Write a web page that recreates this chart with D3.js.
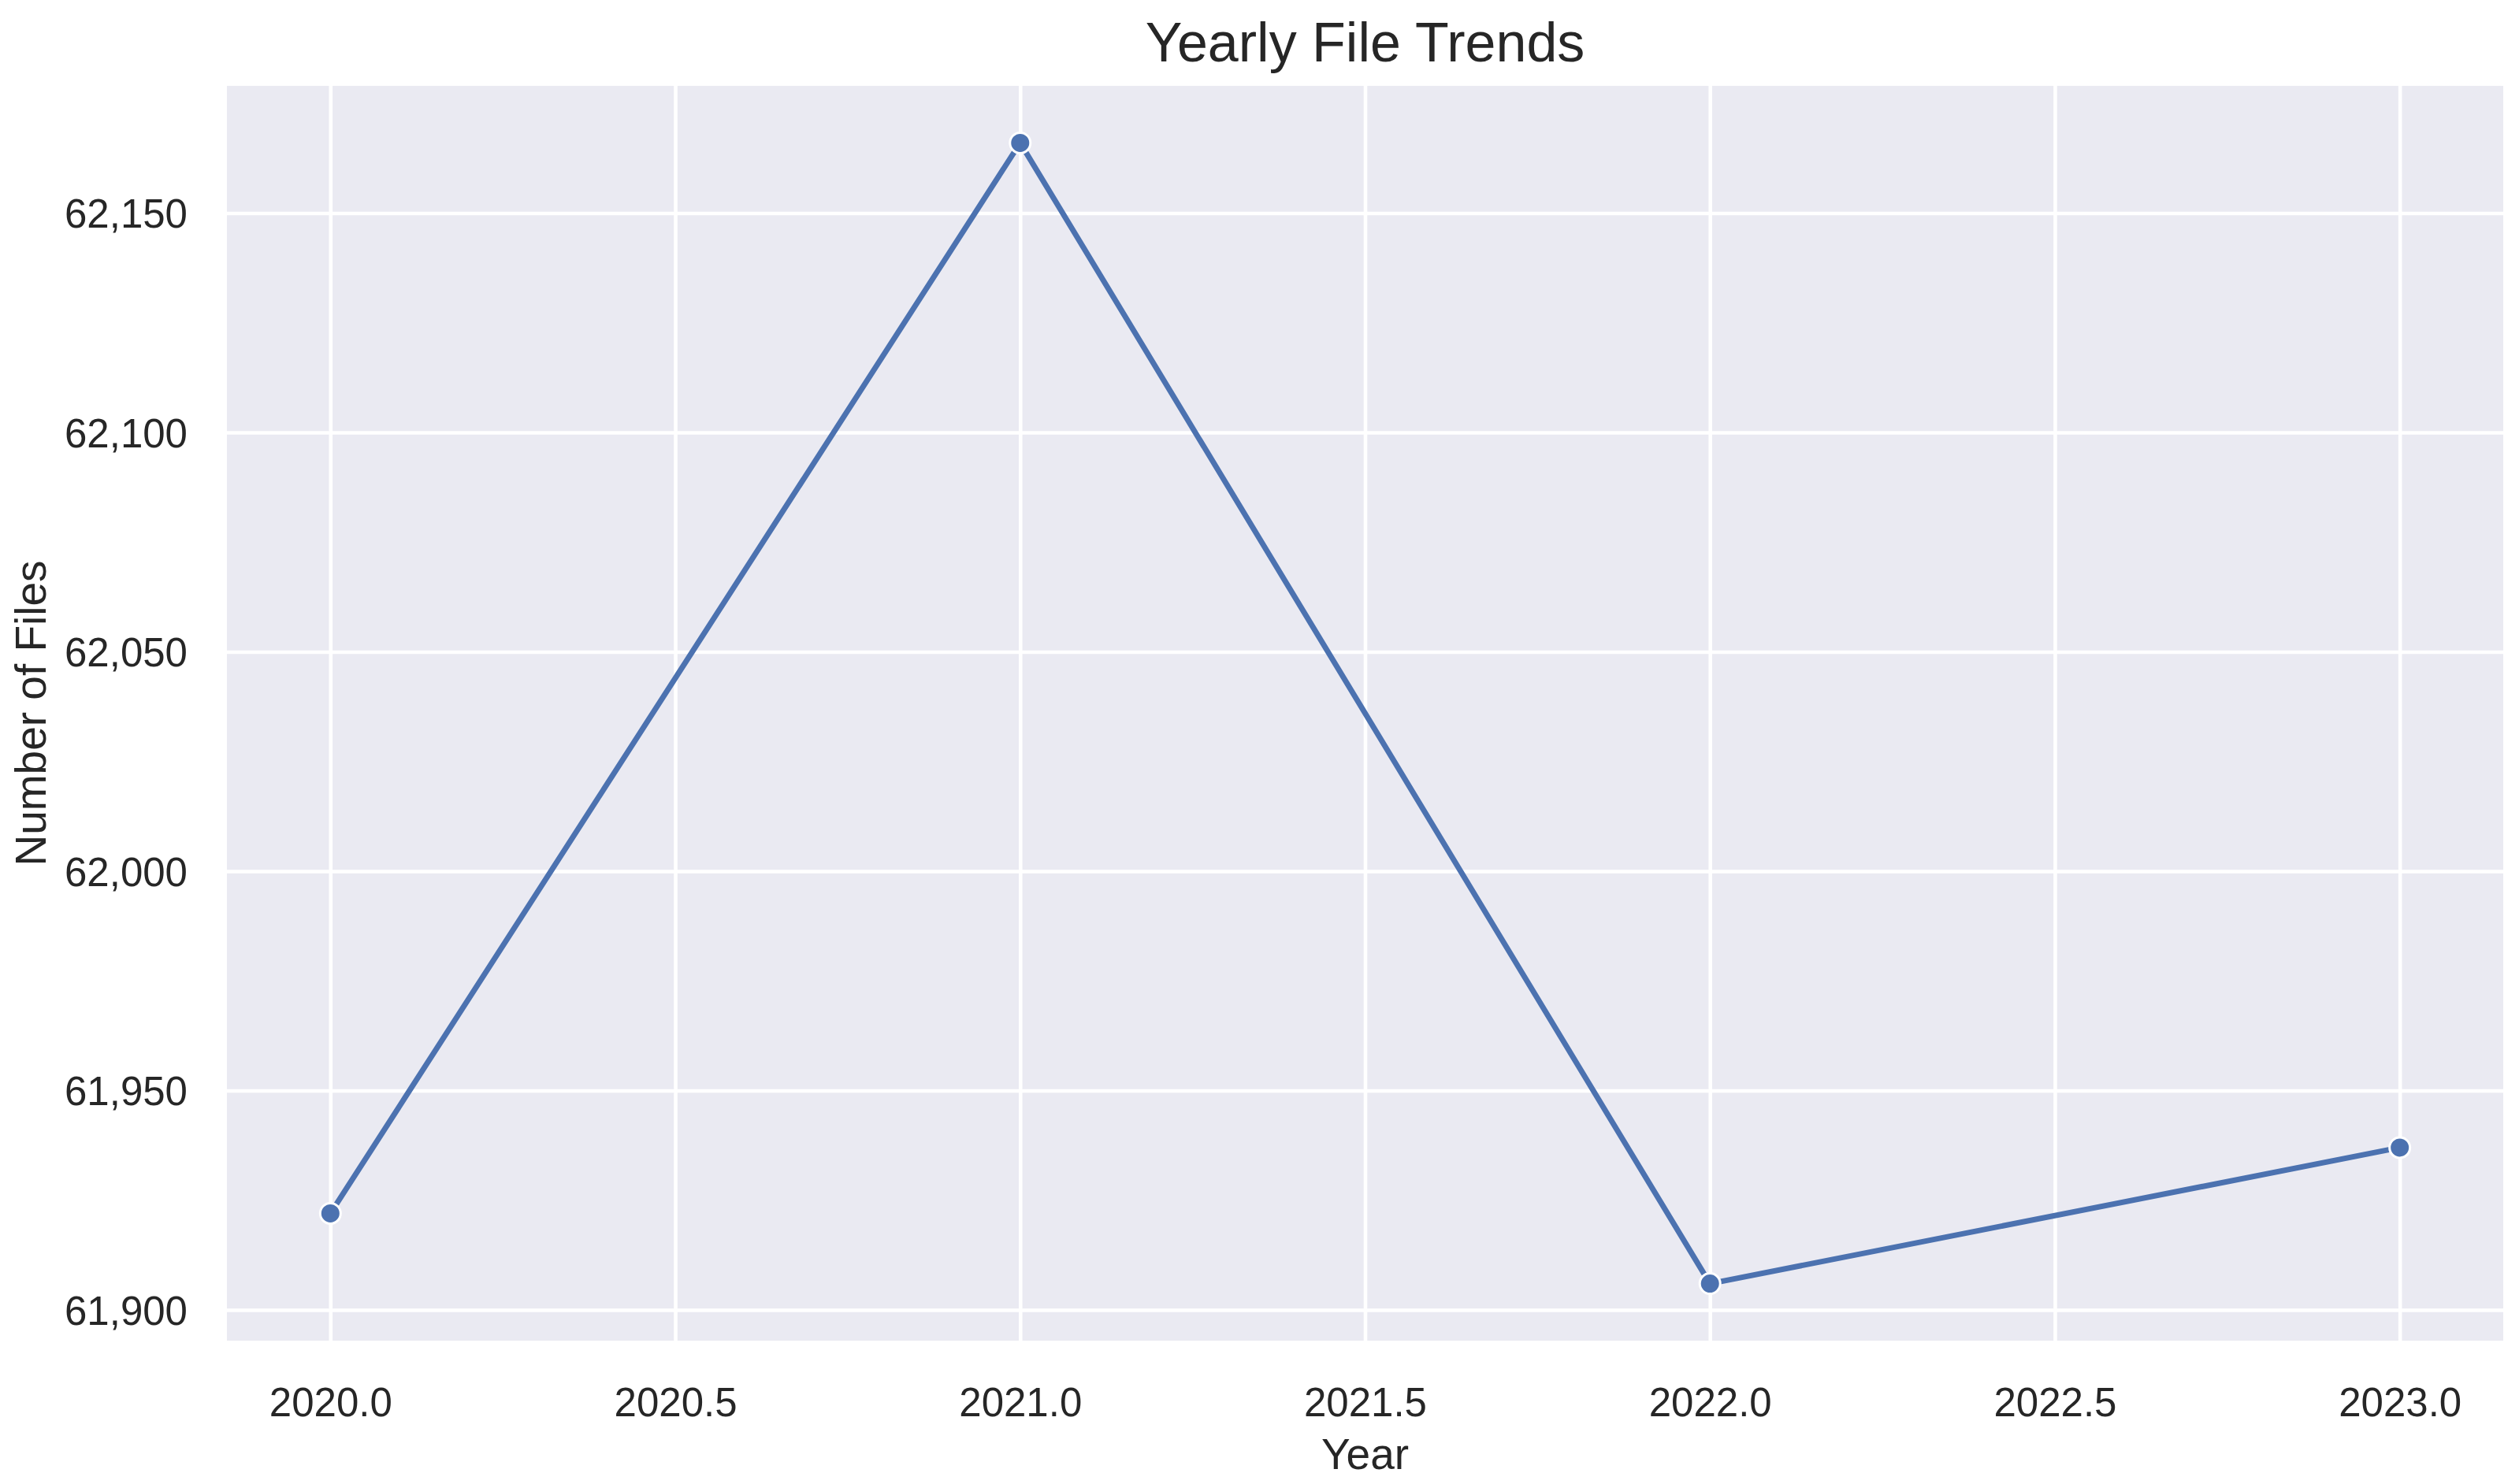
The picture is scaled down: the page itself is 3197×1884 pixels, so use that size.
<!DOCTYPE html>
<html>
<head>
<meta charset="utf-8">
<script src="https://cdn.jsdelivr.net/npm/d3@7"></script>
<style>
  body { margin: 0; background: #fff; }
  text { font-family: "Liberation Sans", Arial, sans-serif; fill: #262626; }
</style>
</head>
<body>
<svg id="chart"></svg>
<script>
// Data
var years = [2020, 2021, 2022, 2023]
var files = [61922, 62166, 61906, 61937]
var xTicks = [2020.0, 2020.5, 2021.0, 2021.5, 2022.0, 2022.5, 2023.0]
var yTicks = [61900, 61950, 62000, 62050, 62100, 62150]

var width = 3197, height = 1884
var margin = {top: 109, right: 20, bottom: 182, left: 288}

var svg = d3.select("#chart")
  .attr("width", width)
  .attr("height", height)

var data = years.map((y, i) => { return {year: y, files: files[i]} })

// matplotlib style 5% padding on both axes
var xExt = d3.extent(years), xPad = (xExt[1] - xExt[0]) * 0.05
var yExt = d3.extent(files), yPad = (yExt[1] - yExt[0]) * 0.05

var x = d3.scaleLinear()
  .domain([xExt[0] - xPad, xExt[1] + xPad])
  .range([margin.left, width - margin.right])

var y = d3.scaleLinear()
  .domain([yExt[0] - yPad, yExt[1] + yPad])
  .range([height - margin.bottom, margin.top])

// plot background
svg.append("rect")
  .attr("x", margin.left)
  .attr("y", margin.top)
  .attr("width", width - margin.left - margin.right)
  .attr("height", height - margin.top - margin.bottom)
  .attr("fill", "#eaeaf2")

// grid
svg.append("g")
  .attr("transform", "translate(0," + (height - margin.bottom) + ")")
  .call(d3.axisBottom(x)
    .tickValues(xTicks)
    .tickSize(-(height - margin.top - margin.bottom))
    .tickFormat(""))
  .call(g => g.select(".domain").remove())
  .selectAll("line")
  .attr("stroke", "#fff")
  .attr("stroke-width", 4.6)

svg.append("g")
  .attr("transform", "translate(" + margin.left + ",0)")
  .call(d3.axisLeft(y)
    .tickValues(yTicks)
    .tickSize(-(width - margin.left - margin.right))
    .tickFormat(""))
  .call(g => g.select(".domain").remove())
  .selectAll("line")
  .attr("stroke", "#fff")
  .attr("stroke-width", 4.6)

// tick labels
var xAxis = svg.append("g")
  .attr("transform", "translate(0," + (height - margin.bottom) + ")")
  .call(d3.axisBottom(x)
    .tickValues(xTicks)
    .tickSize(0)
    .tickPadding(0)
    .tickFormat(d3.format(".1f")))
xAxis.select(".domain").remove()
xAxis.selectAll("text")
  .attr("y", 96)
  .attr("dy", null)
  .attr("font-size", 51)
  .attr("fill", "#262626")

var yAxis = svg.append("g")
  .attr("transform", "translate(" + margin.left + ",0)")
  .call(d3.axisLeft(y)
    .tickValues(yTicks)
    .tickSize(0)
    .tickPadding(0)
    .tickFormat(d3.format(",")))
yAxis.select(".domain").remove()
yAxis.selectAll("text")
  .attr("x", -50)
  .attr("dy", "0.36em")
  .attr("font-size", 51)
  .attr("fill", "#262626")

// line + markers
var line = d3.line()
  .x(d => x(d.year))
  .y(d => y(d.files))

svg.append("path")
  .datum(data)
  .attr("d", line)
  .attr("fill", "none")
  .attr("stroke", "#4c72b0")
  .attr("stroke-width", 7)
  .attr("stroke-linejoin", "round")

svg.selectAll(".dot")
  .data(data)
  .enter().append("circle")
  .attr("class", "dot")
  .attr("cx", d => x(d.year))
  .attr("cy", d => y(d.files))
  .attr("r", 13)
  .attr("fill", "#4c72b0")
  .attr("stroke", "#fff")
  .attr("stroke-width", 3)

// titles
svg.append("text")
  .attr("x", (margin.left + width - margin.right) / 2)
  .attr("y", 78)
  .attr("text-anchor", "middle")
  .attr("font-size", 70)
  .text("Yearly File Trends")

svg.append("text")
  .attr("x", (margin.left + width - margin.right) / 2)
  .attr("y", 1865)
  .attr("text-anchor", "middle")
  .attr("font-size", 55)
  .text("Year")

svg.append("text")
  .attr("transform", "translate(58," + ((margin.top + height - margin.bottom) / 2) + ") rotate(-90)")
  .attr("text-anchor", "middle")
  .attr("font-size", 55)
  .text("Number of Files")
</script>
</body>
</html>
